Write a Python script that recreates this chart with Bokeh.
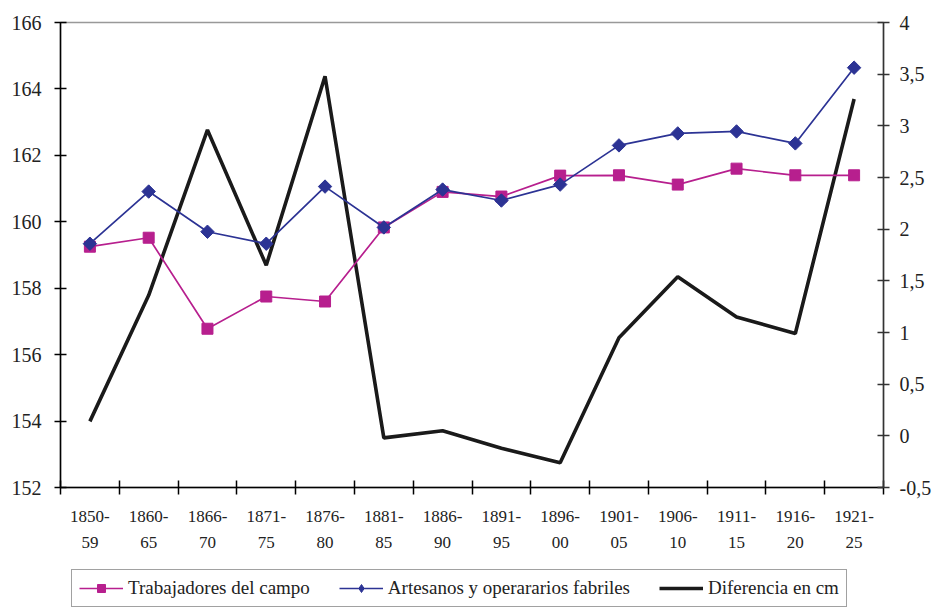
import math
from bokeh.plotting import figure
from bokeh.layouts import column
from bokeh.models import (Range1d, LinearAxis, FixedTicker, CustomJSTickFormatter,
                          Legend, LegendItem, ColumnDataSource)
from bokeh.embed import file_html
from bokeh.resources import INLINE

periods = ["1850-\n59", "1860-\n65", "1866-\n70", "1871-\n75", "1876-\n80", "1881-\n85",
           "1886-\n90", "1891-\n95", "1896-\n00", "1901-\n05", "1906-\n10", "1911-\n15",
           "1916-\n20", "1921-\n25"]
trabajadores = [159.25, 159.52, 156.78, 157.75, 157.6, 159.83, 160.9, 160.76,
                161.39, 161.4, 161.12, 161.6, 161.4, 161.4]
artesanos = [159.34, 160.91, 159.7, 159.34, 161.06, 159.83, 160.97, 160.64,
             161.12, 162.3, 162.66, 162.72, 162.36, 164.64]
diferencia = [0.14, 1.36, 2.96, 1.65, 3.48, -0.02, 0.05, -0.12,
              -0.26, 0.95, 1.54, 1.15, 0.99, 3.26]
left_ticks = [152, 154, 156, 158, 160, 162, 164, 166]
right_ticks = [-0.5, 0, 0.5, 1, 1.5, 2, 2.5, 3, 3.5, 4]

FONT = "Liberation Serif"
MAGENTA = "#B71F8E"
BLUE = "#2C3394"
W = 934

n = len(periods)
xs = [i + 0.5 for i in range(n)]
src = ColumnDataSource(dict(x=xs, t=trabajadores, a=artesanos, d=diferencia))

p = figure(width=W, height=569, output_backend="svg", toolbar_location=None,
           x_range=Range1d(0, n), y_range=Range1d(152, 166),
           min_border_left=60, min_border_right=49, min_border_top=22, min_border_bottom=82,
           x_axis_type=None, y_axis_type=None)
p.extra_y_ranges = {"diff": Range1d(-0.5, 4)}
p.xgrid.visible = False
p.ygrid.visible = False
p.outline_line_color = "#999999"
p.outline_line_width = 1.5
p.background_fill_color = "white"
p.border_fill_color = "white"

# axes
xaxis = LinearAxis(ticker=FixedTicker(ticks=xs, minor_ticks=list(range(n + 1))))
xaxis.major_label_overrides = {x: lab for x, lab in zip(xs, periods)}
xaxis.major_tick_line_color = None
xaxis.minor_tick_in = 7
xaxis.minor_tick_out = 7
xaxis.minor_tick_line_color = "black"
xaxis.minor_tick_line_width = 1.5
xaxis.axis_line_color = "black"
xaxis.axis_line_width = 1.5
xaxis.major_label_text_font = FONT
xaxis.major_label_text_font_size = "17px"
xaxis.major_label_text_line_height = 1.4
xaxis.major_label_text_color = "#222222"
xaxis.major_label_standoff = 12
p.add_layout(xaxis, "below")

yaxis = LinearAxis(ticker=FixedTicker(ticks=left_ticks, minor_ticks=[]))
yaxis.major_tick_in = 6
yaxis.major_tick_out = 6
yaxis.axis_line_color = "black"
yaxis.axis_line_width = 1.5
yaxis.major_tick_line_width = 1.5
yaxis.major_label_text_font = FONT
yaxis.major_label_text_font_size = "20px"
yaxis.major_label_text_color = "#222222"
yaxis.major_label_standoff = 13
p.add_layout(yaxis, "left")

raxis = LinearAxis(y_range_name="diff", ticker=FixedTicker(ticks=right_ticks, minor_ticks=[]),
                   formatter=CustomJSTickFormatter(code="return tick.toString().replace('.', ',');"))
raxis.major_tick_in = 6
raxis.major_tick_out = 6
raxis.axis_line_color = "#333333"
raxis.axis_line_width = 1.5
raxis.major_tick_line_color = "#333333"
raxis.major_tick_line_width = 1.5
raxis.major_label_text_font = FONT
raxis.major_label_text_font_size = "20px"
raxis.major_label_text_color = "#222222"
raxis.major_label_standoff = 10
p.add_layout(raxis, "right")

def draw(fig, for_legend=False):
    l_d = fig.line("x", "d", source=src, y_range_name="diff", color="#1a1a1a", line_width=3.6)
    l_t = fig.line("x", "t", source=src, color=MAGENTA, line_width=1.7)
    m_t = fig.scatter("x", "t", source=src, marker="square", size=11, color=MAGENTA)
    l_a = fig.line("x", "a", source=src, color=BLUE, line_width=1.7)
    if for_legend:
        m_a = fig.scatter("x", "a", source=src, marker="diamond", size=16, color=BLUE)
    else:
        m_a = fig.scatter("x", "a", source=src, marker="square", angle=math.pi / 4,
                          size=9.5, color=BLUE)
    return l_d, l_t, m_t, l_a, m_a

draw(p)

# legend strip (a second figure whose ranges keep its copies of the series out of view)
q = figure(width=W, height=38, output_backend="svg", toolbar_location=None,
           x_range=Range1d(100, 101), y_range=Range1d(1000, 1001),
           min_border_left=0, min_border_right=0, min_border_top=0, min_border_bottom=0,
           x_axis_type=None, y_axis_type=None)
q.extra_y_ranges = {"diff": Range1d(1000, 1001)}
q.xgrid.visible = False
q.ygrid.visible = False
q.outline_line_color = None
l_d, l_t, m_t, l_a, m_a = draw(q, for_legend=True)

legend = Legend(items=[
    LegendItem(label="Trabajadores del campo", renderers=[l_t, m_t]),
    LegendItem(label="Artesanos y operararios fabriles", renderers=[l_a, m_a]),
    LegendItem(label="Diferencia en cm", renderers=[l_d]),
], orientation="horizontal", location=(11, 0))
legend.label_text_font = FONT
legend.label_text_font_size = "19px"
legend.label_text_color = "#222222"
legend.border_line_color = "#444444"
legend.border_line_width = 1.5
legend.glyph_width = 44
legend.spacing = 29
legend.padding = 7
legend.margin = 0
legend.label_standoff = 5
q.add_layout(legend, "center")

open("out.html", "w").write(file_html(column(p, q), INLINE))
